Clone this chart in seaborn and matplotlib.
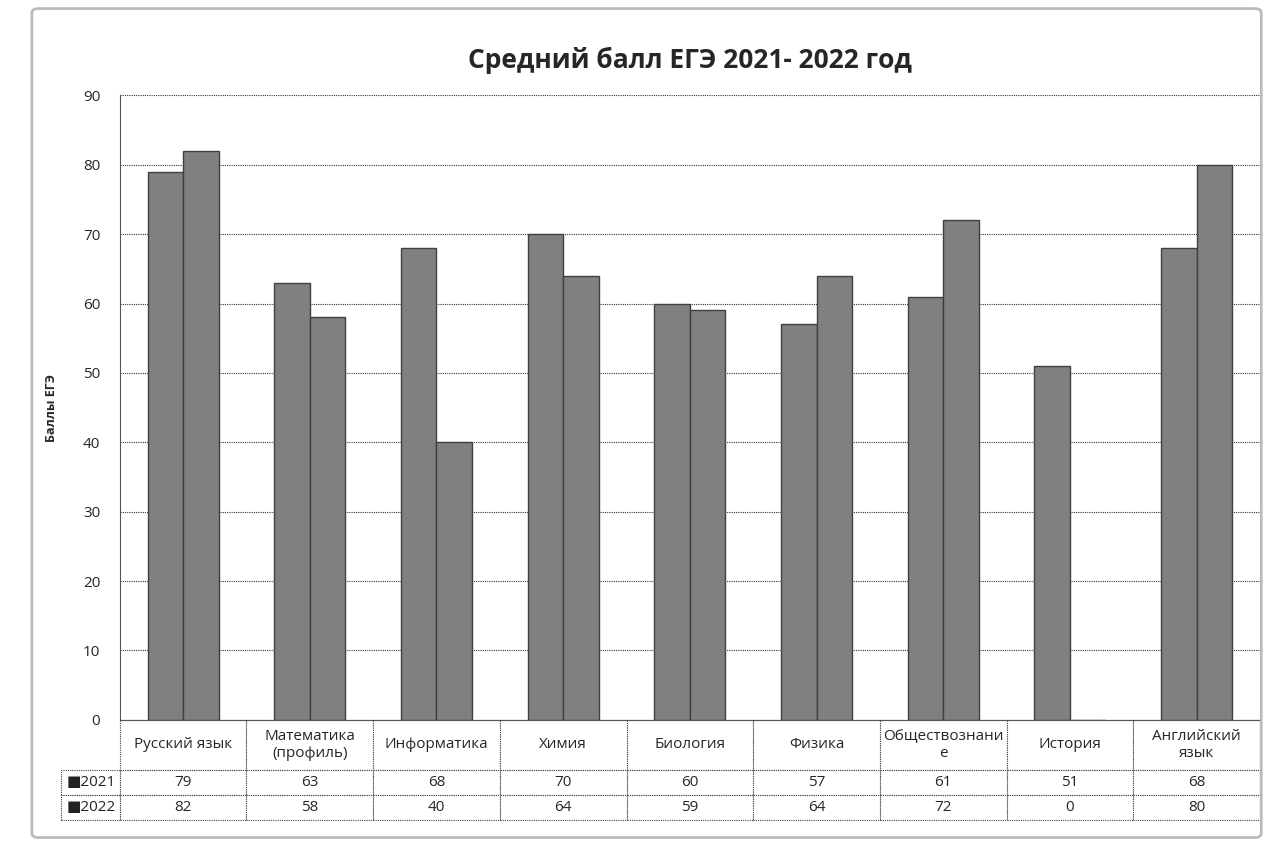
import pandas as pd
import seaborn as sns
import matplotlib.pyplot as plt
from matplotlib.patches import FancyBboxPatch

subjects = ["Русский язык", "Математика\n(профиль)", "Информатика", "Химия", "Биология",
            "Физика", "Обществознани\nе", "История", "Английский\nязык"]
years = ["2021", "2022"]
scores_2021 = [79, 63, 68, 70, 60, 57, 61, 51, 68]
scores_2022 = [82, 58, 40, 64, 59, 64, 72, 0, 80]

df = pd.DataFrame({
    "subject": subjects * 2,
    "year": [years[0]] * len(subjects) + [years[1]] * len(subjects),
    "score": scores_2021 + scores_2022,
})

sns.set_style("white")
plt.rcParams['font.family'] = ['Open Sans', 'DejaVu Sans']

fig = plt.figure(figsize=(12.74, 8.59), dpi=100)
ax = fig.add_axes([0.094, 0.162, 0.895, 0.727])

# grey bars, one pair per subject
sns.barplot(data=df, x="subject", y="score", hue="year", order=subjects,
            palette=["#808080", "#808080"], edgecolor="#404040", linewidth=1.0,
            width=0.56, gap=0.0, ax=ax, legend=False)

ax.set_ylim(0, 90)
ax.set_xlim(-0.5, len(subjects) - 0.5)
ax.set_yticks(range(0, 91, 10))
ax.tick_params(axis='y', labelsize=11, length=0, pad=14)
ax.set_xticks([])
ax.set_xlabel("")
ax.set_ylabel("Баллы ЕГЭ", fontsize=9, fontweight='bold', labelpad=18)
ax.yaxis.grid(True, color="#333333", linestyle=(0, (1, 1)), linewidth=0.8)
ax.set_axisbelow(True)
for side in ["top", "right"]:
    ax.spines[side].set_visible(False)
ax.spines["left"].set_color("#555555")
ax.spines["bottom"].set_color("#555555")

ax.set_title("Средний балл ЕГЭ 2021- 2022 год", fontsize=19, fontweight='bold', pad=20)

# data table under the axes
cell_text = [[str(v) for v in scores_2021], [str(v) for v in scores_2022]]
tbl = ax.table(cellText=cell_text, rowLabels=["■2021", "■2022"], colLabels=subjects,
               colWidths=[1 / len(subjects)] * len(subjects), cellLoc='center', loc='bottom')
tbl.auto_set_font_size(False)
tbl.set_fontsize(11)
for (r, c), cell in tbl.get_celld().items():
    cell.set_edgecolor("#444444")
    cell.set_linewidth(0.8)
    cell.set_linestyle((0, (1, 1)))
    cell.set_height(0.08 if r == 0 else 0.04)
    if c == -1:
        cell.set_width(0.055)
        cell.get_text().set_color("#222222")

# light outer frame
fig.patches.append(FancyBboxPatch((0.03, 0.03), 0.955, 0.955, boxstyle="round,pad=0.005",
                                  transform=fig.transFigure, fill=False,
                                  edgecolor="#bbbbbb", linewidth=2))

fig.savefig("out.png", dpi=100)
